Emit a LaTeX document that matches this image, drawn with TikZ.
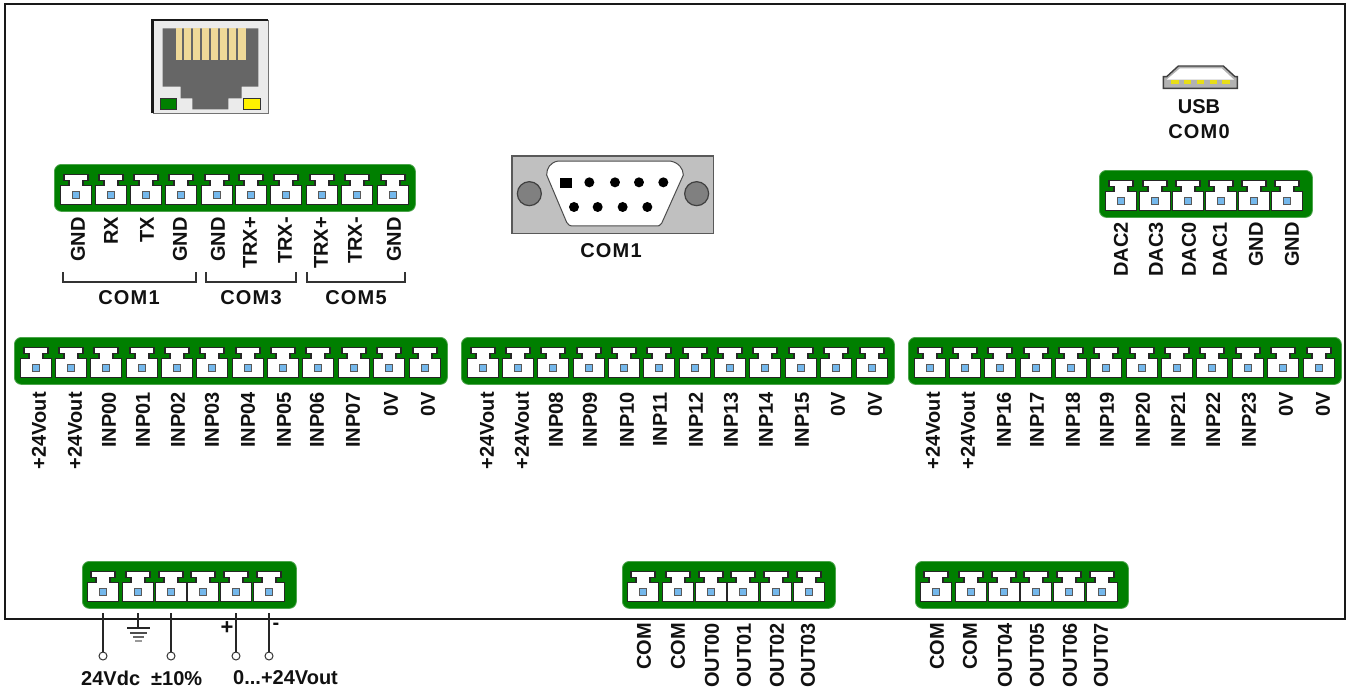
\documentclass[tikz,border=0pt]{standalone}
\usepackage{fontspec}
\setmainfont{Liberation Sans}
\newfontfamily\spacedbold[LetterSpace=6,BoldFont={Liberation Sans Bold}]{Liberation Sans}
\definecolor{blockgreen}{HTML}{007F00}
\definecolor{pinblue}{HTML}{74B8EC}
\definecolor{rjgray}{HTML}{666666}
\definecolor{rjgold}{HTML}{EFD998}
\definecolor{dbgray}{HTML}{C0C0C0}
\definecolor{lbl}{HTML}{111111}
\tikzset{
  x=1pt,y=-1pt,
  blockbody/.style={fill=blockgreen,draw=blockgreen!70!white,line width=0.8pt,rounded corners=7pt},
  termbody/.style={fill=white,draw=black!85,line width=1.6pt,line join=miter},
  termpin/.style={fill=pinblue,draw=black!65,line width=1pt},
  vlabel/.style={font=\bfseries\fontsize{20}{20}\selectfont,text=lbl,rotate=90,anchor=east,inner sep=0pt},
  hlabel/.style={font=\bfseries\fontsize{20}{20}\selectfont,text=lbl,inner sep=0pt,anchor=center},
  comlabel/.style={font=\spacedbold\bfseries\fontsize{20}{20}\selectfont,text=lbl,inner sep=0pt,anchor=center},
  wire/.style={draw=black!85,line width=1.2pt},
  bracketline/.style={draw=black!80,line width=1.2pt},
  ringnode/.style={circle,draw=black!80,fill=white,line width=1pt,minimum size=8pt,inner sep=0pt},
}
% name, left, top, right, list of terminal centres
\newcommand{\tblock}[5]{%
  \node[blockbody,rectangle,minimum width=#4-#2,minimum height=47pt,inner sep=0pt,anchor=north west] (#1) at (#2,#3) {};
  \foreach \cx in {#5}{%
    \path[termbody] (\cx-12,#3+10.5) -- (\cx+12,#3+10.5) -- (\cx+12,#3+16.5) -- (\cx+7,#3+16.5) -- (\cx+7,#3+21.5)
      -- (\cx+15.5,#3+21.5) -- (\cx+15.5,#3+40.5) -- (\cx-15.5,#3+40.5) -- (\cx-15.5,#3+21.5) -- (\cx-7,#3+21.5)
      -- (\cx-7,#3+16.5) -- (\cx-12,#3+16.5) -- cycle;
    \path[termpin] (\cx-3.5,#3+27) rectangle (\cx+3.5,#3+34);
  }%
}
% name prefix, top y, list of x/text
\newcommand{\tlabels}[3]{%
  \foreach \lx/\ltext [count=\li] in {#3}{%
    \node[vlabel] (#1\li) at (\lx,#2) {\ltext};
  }%
}
% name, left x, right x, label x, label
\newcommand{\combracket}[5]{%
  \coordinate (#1a) at (#2,272); \coordinate (#1b) at (#3,272);
  \draw[bracketline] (#1a) -- ++(0,10) -| (#1b);
  \node[comlabel] (#1t) at (#4,298) {#5};
}
\begin{document}
\begin{tikzpicture}
\useasboundingbox (0,0) rectangle (1348,691);
\fill[white] (0,0) rectangle (1348,691);

% frame
\draw[black!90,line width=1.4pt] (5,4) rectangle (1345,619);

% RJ45
\begin{scope}[shift={(140,10)},x=0.3333pt,y=-0.3333pt]
  \fill[black!8] (38,30) rectangle (385,310);
  \draw[black!90,line width=2.6pt] (38,310) -- (38,30) -- (385,30);
  \draw[black!55,line width=1.2pt] (38,310) -- (385,310) -- (385,30);
  \fill[rjgray] (68,55) -- (355,55) -- (355,230) -- (305,230) -- (305,265) -- (265,265) -- (265,298)
     -- (157,298) -- (157,265) -- (122,265) -- (122,230) -- (68,230) -- cycle;
  \foreach \pa/\pb in {107/127,132/153,159/181,186/208,213/234,240/261,266/288,293/317}{
    \fill[rjgold] (\pa,55) rectangle (\pb,150);
  }
  \draw[fill=green!50!black,draw=black!80,line width=1pt] (62,265) rectangle (110,298);
  \draw[fill=yellow,draw=black!80,line width=1pt] (312,265) rectangle (362,298);
\end{scope}

% USB
\begin{scope}[shift={(1150,55)},x=0.3333pt,y=-0.3333pt]
  \draw[fill=black!30,draw=black!75,line width=1.4pt] (40,100) -- (40,65) -- (50,65) -- (85,33) -- (220,33) -- (255,65) -- (262,65) -- (262,100) -- cycle;
  \fill[white] (50,74) -- (90,40) -- (215,40) -- (252,74) -- cycle;
  \foreach \ux in {75,113,152,190,228}{ \fill[yellow!90!black] (\ux-11,76) rectangle (\ux+11,87); }
\end{scope}
\node[hlabel] (usblabel) at (1199,107) {USB};
\node[comlabel] (comzero) at (1199,132) {COM0};

% DB9
\begin{scope}[shift={(500,145)},x=0.3333pt,y=-0.3333pt]
  \draw[fill=dbgray,draw=black!65,line width=1.2pt] (36,33) rectangle (640,265);
  \draw[fill=white,draw=black!70,line width=1pt] (175,48) -- (510,48) .. controls (535,52) and (550,70) .. (550,90)
     -- (485,235) .. controls (480,243) and (475,243) .. (470,243) -- (215,243) .. controls (210,243) and (205,240) .. (200,232)
     -- (140,90) .. controls (140,70) and (150,52) .. (175,48) -- cycle;
  \foreach \sx in {88,590}{ \draw[fill=black!50,draw=black!75,line width=1.2pt] (\sx,146) circle[radius=36]; }
  \fill[black] (180,98) rectangle (215,130);
  \foreach \px in {268,345,417,490}{ \fill[black] (\px,112) circle[radius=15]; }
  \foreach \px in {222,293,368,442}{ \fill[black] (\px,186) circle[radius=15]; }
\end{scope}
\node[comlabel] (dblabel) at (611,251) {COM1};

% terminal blocks
\tblock{topa}{54}{164}{415}{76,111,146,181,217,251,286,322,357,393}
\tlabels{la}{217}{78/GND,111/RX,147/TX,180/GND,218/GND,250/TRX+,285/TRX-,321/TRX+,355/TRX-,394/GND}
\combracket{ca}{63}{196}{129}{COM1}
\combracket{cb}{206}{296}{251}{COM3}
\combracket{cc}{307}{405}{356}{COM5}

\tblock{topb}{1099}{170}{1312}{1121,1155,1188,1221,1254,1287}
\tlabels{lb}{222}{1121/DAC2,1156/DAC3,1189/DAC0,1220/DAC1,1256/GND,1292/GND}

\tblock{mida}{14}{337}{447}{36,71,106,142,177,212,248,283,318,354,389,425}
\tlabels{lc}{392}{39/+24Vout,75/+24Vout,109/INP00,143/INP01,178/INP02,212/INP03,248/INP04,284/INP05,317/INP06,353/INP07,391/0V,428/0V}

\tblock{midb}{461}{337}{894}{483,518,553,589,624,659,695,730,765,801,836,872}
\tlabels{ld}{392}{487/+24Vout,522/+24Vout,556/INP08,590/INP09,627/INP10,660/INP11,696/INP12,731/INP13,766/INP14,802/INP15,838/0V,875/0V}

\tblock{midc}{908}{337}{1341}{930,965,1000,1036,1071,1106,1142,1177,1212,1248,1283,1319}
\tlabels{le}{392}{933/+24Vout,968/+24Vout,1004/INP16,1037/INP17,1073/INP18,1107/INP19,1143/INP20,1178/INP21,1213/INP22,1249/INP23,1286/0V,1323/0V}

\tblock{pwr}{82}{561}{296}{103,138,171,203,236,269}

\tblock{outa}{622}{561}{835}{643,678,711,743,776,809}
\tlabels{lf}{623}{644/COM,678/COM,712/OUT00,744/OUT01,777/OUT02,808/OUT03}

\tblock{outb}{915}{561}{1128}{936,971,1004,1036,1069,1102}
\tlabels{lg}{623}{937/COM,970/COM,1005/OUT04,1037/OUT05,1070/OUT06,1101/OUT07}

% power connectors
\coordinate (wa) at (103,613);
\coordinate (wb) at (138,613);
\coordinate (wc) at (171,613);
\coordinate (wd) at (236,613);
\coordinate (we) at (269,613);
\coordinate (gndtop) at (138,628);
\node[ringnode] (ra) at (103,656) {};
\node[ringnode] (rc) at (171,656) {};
\node[ringnode] (rd) at (236,656) {};
\node[ringnode] (re) at (269,656) {};
\draw[wire] (wa) -- (ra);
\draw[wire] (wc) -- (rc);
\draw[wire] (wd) -- (rd);
\draw[wire] (we) -- (re);
\draw[wire] (wb) -- (gndtop);
\draw[black!85,line width=1.2pt] (127,628) -- (150,628);
\draw[black!70,line width=1.2pt] (130,633) -- (147,633);
\draw[black!60,line width=1.2pt] (133,637) -- (144,637);
\draw[black!40,line width=1.2pt] (135,641) -- (142,641);
\node[hlabel,font=\bfseries\fontsize{22}{22}\selectfont] (plus) at (227,628) {+};
\node[hlabel] (minus) at (276,626) {-};
\node[hlabel,anchor=west] (vin) at (81,678) {24Vdc \ ±10\%};
\node[hlabel,anchor=west] (vout) at (233,678) {0...+24Vout};
\end{tikzpicture}
\end{document}
